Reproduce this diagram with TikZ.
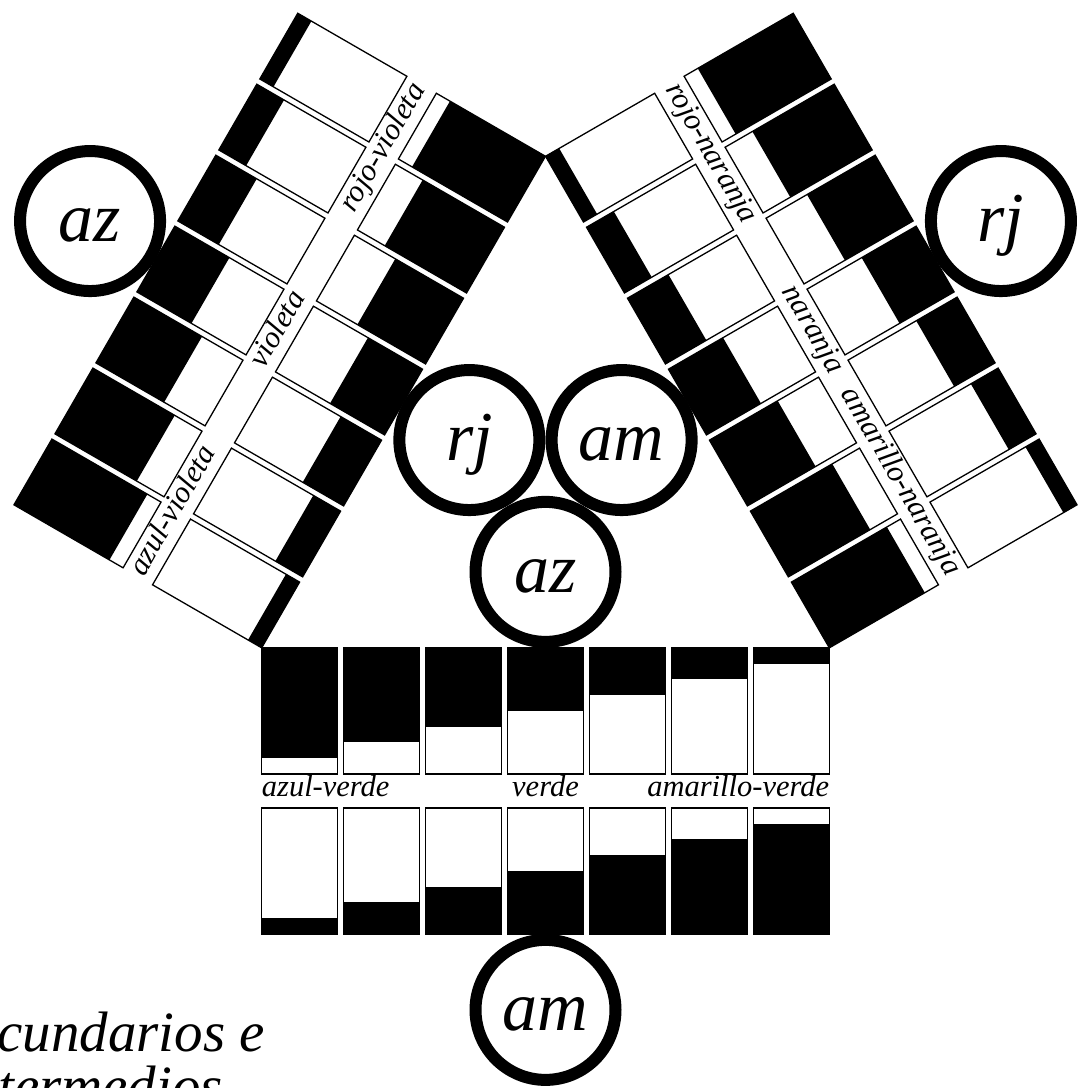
\documentclass[tikz,border=0pt]{standalone}
\usepackage{fontspec}
\setmainfont{Liberation Serif}
\tikzset{
  marco/.style={draw=black, line width=1.3pt},
  tinta/.style={fill=black},
  anillo/.style={circle, draw=black, line width=12pt, fill=white, minimum size=140pt,
    inner sep=0pt, font=\fontsize{70}{74}\selectfont\itshape, text height=45pt, text depth=4pt},
  rotulo/.style={font=\fontsize{30.5}{32}\selectfont\itshape, inner sep=0pt},
  titulo/.style={font=\fontsize{57}{60}\selectfont\itshape, inner sep=0pt},
  brazo/.style={shift={(545.5,604)}, rotate=#1, shift={(-283.8,-163.9)}}
}
% seven bars, inner row and outer row
\newcommand{\barras}{%
  \foreach \i in {1,...,7}{%
    \pgfmathsetmacro{\xa}{(\i-1)*81.95}
    \pgfmathsetmacro{\xb}{\xa+75.9}
    \pgfmathsetmacro{\hi}{126*(8-\i)/8}
    \pgfmathsetmacro{\ho}{126*\i/8}
    \fill[white] (\xa,0) rectangle (\xb,-126);
    \fill[tinta] (\xa,0) rectangle (\xb,-\hi);
    \draw[marco] (\xa,0) rectangle (\xb,-126);
    \fill[white] (\xa,-160) rectangle (\xb,-286);
    \fill[tinta] (\xa,-286) rectangle (\xb,-286+\ho);
    \draw[marco] (\xa,-160) rectangle (\xb,-286);
  }%
}
\begin{document}
\begin{tikzpicture}[x=1pt,y=1pt]
  \useasboundingbox (0,0) rectangle (1083,1088);
  \clip (0,0) rectangle (1083,1088);
  % bottom band
  \begin{scope}[brazo=0]
    \barras
    \node[rotulo, anchor=base west] (azve) at (0,-149) {azul-verde};
    \node[rotulo, anchor=base] (ve) at (283.8,-149) {verde};
    \node[rotulo, anchor=base east] (amve) at (567.6,-149) {amarillo-verde};
    \node[anillo] (az1) at (283.8,76) {az};
    \node[anillo] (am2) at (283.8,-362) {am};
  \end{scope}
  % left arm
  \begin{scope}[brazo=-120]
    \barras
    \node[rotulo, rotate=60, anchor=base east] (rjvi) at (2,-137) {rojo-violeta};
    \node[rotulo, rotate=60, anchor=base] (vi) at (283.8,-137) {violeta};
    \node[rotulo, rotate=60, anchor=base west] (azvi) at (565.6,-137) {azul-violeta};
    \node[anillo] (rj1) at (283.8,76) {rj};
    \node[anillo] (az2) at (283.8,-362) {az};
  \end{scope}
  % right arm
  \begin{scope}[brazo=120]
    \barras
    \node[rotulo, rotate=-60, anchor=base east] (amna) at (2,-137) {amarillo-naranja};
    \node[rotulo, rotate=-60, anchor=base] (na) at (283.8,-137) {naranja};
    \node[rotulo, rotate=-60, anchor=base west] (rjna) at (565.6,-137) {rojo-naranja};
    \node[anillo] (am1) at (283.8,76) {am};
    \node[anillo] (rj2) at (283.8,-362) {rj};
  \end{scope}
  % title, cut by the page
  \node[titulo, anchor=base west] (sec) at (-3,36.3) {cundarios e};
  \node[titulo, anchor=base west] (inter) at (-2,-17) {termedios};
\end{tikzpicture}
\end{document}
